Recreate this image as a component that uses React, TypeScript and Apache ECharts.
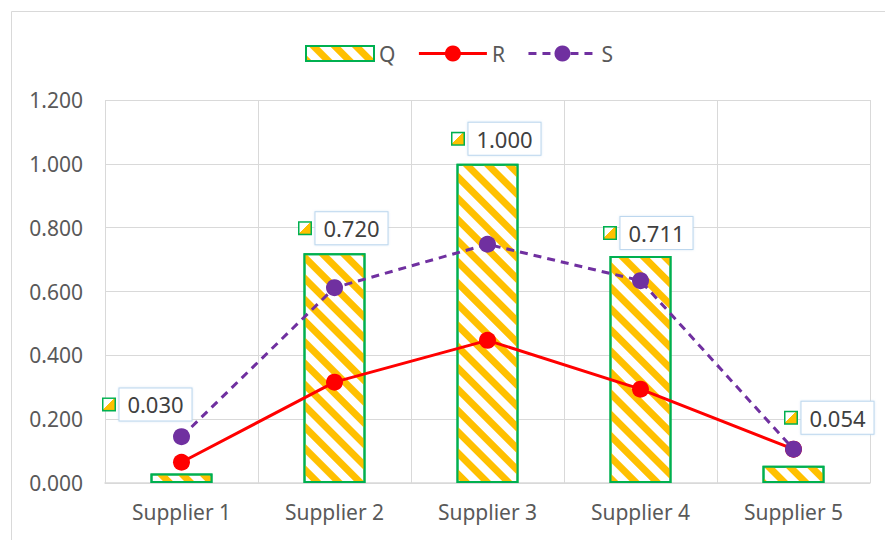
import React, { useEffect, useRef } from "react";
import * as echarts from "echarts";

const categories = ["Supplier 1", "Supplier 2", "Supplier 3", "Supplier 4", "Supplier 5"];
const qValues = [0.03, 0.72, 1.0, 0.711, 0.054];
const rValues = [0.065, 0.316, 0.447, 0.294, 0.106];
const sValues = [0.145, 0.612, 0.748, 0.634, 0.106];
const yTicks = { min: 0, max: 1.2, interval: 0.2 };

// label placement (pixels, relative to the bar top)
const labelOffsets: [number, number][] = [
  [-34, -53],
  [9, -9],
  [9, -9],
  [8, -7],
  [36, -32],
];

const FONT = "Noto Sans";
const YELLOW = "#FFC000";
const GREEN = "#00B050";

export default function App() {
  const ref = useRef<HTMLDivElement>(null);
  useEffect(() => {
    document.body.style.margin = "0";
    if (!ref.current) return;
    const chart = echarts.init(ref.current, undefined, { renderer: "svg" });
    const keyFill = new echarts.graphic.LinearGradient(0, 0, 1, 1, [
      { offset: 0, color: "#ffffff" },
      { offset: 0.45, color: "#ffffff" },
      { offset: 0.45, color: YELLOW },
      { offset: 1, color: YELLOW },
    ]);
    const decal = {
      symbol: "rect",
      symbolSize: 1,
      color: YELLOW,
      dashArrayX: [7, 8],
      dashArrayY: [1, 0],
      rotation: -Math.PI / 4,
    };
    chart.setOption({
      animation: false,
      backgroundColor: "#ffffff",
      textStyle: { fontFamily: FONT },
      graphic: [
        {
          type: "rect",
          shape: { x: 11.5, y: 11.5, width: 1000, height: 1000 },
          style: { fill: "none", stroke: "#d9d9d9", lineWidth: 1 },
          silent: true,
        },
      ],
      legend: {
        top: 38,
        left: 300,
        itemWidth: 68,
        itemHeight: 20,
        itemGap: 22,
        symbolKeepAspect: true,
        lineStyle: { width: 3 },
        textStyle: { fontFamily: FONT, fontSize: 21, color: "#595959" },
        data: [
          { name: "Q", icon: "path://M0 0H68V15H0Z" },
          { name: "R" },
          { name: "S" },
        ],
      },
      grid: { left: 105, right: 15, top: 100, bottom: 57, containLabel: false },
      xAxis: {
        type: "category",
        data: categories,
        boundaryGap: true,
        axisLine: { show: true, lineStyle: { color: "#d9d9d9", width: 1.5 } },
        axisTick: { show: false },
        splitLine: { show: true, lineStyle: { color: "#d9d9d9", width: 1 } },
        axisLabel: { fontFamily: FONT, fontSize: 21, color: "#595959", margin: 18 },
      },
      yAxis: {
        type: "value",
        min: yTicks.min,
        max: yTicks.max,
        interval: yTicks.interval,
        axisLine: { show: false },
        axisTick: { show: false },
        splitLine: { lineStyle: { color: "#d9d9d9", width: 1 } },
        axisLabel: {
          fontFamily: FONT,
          fontSize: 21,
          color: "#595959",
          margin: 22,
          formatter: (v: number) => v.toFixed(3),
        },
      },
      series: [
        {
          name: "Q",
          type: "bar",
          barWidth: 62,
          itemStyle: { color: "#ffffff", borderColor: GREEN, borderWidth: 2, decal },
          data: qValues.map((v, i) => ({
            value: v,
            label: {
              show: true,
              position: "top",
              distance: 0,
              offset: labelOffsets[i],
              formatter: (p: any) => `{k|}{g|}{b|${Number(p.value).toFixed(3)}}`,
              rich: {
                k: {
                  width: 11,
                  height: 11,
                  backgroundColor: keyFill,
                  borderColor: GREEN,
                  borderWidth: 1.5,
                },
                g: { width: 5 },
                b: {
                  fontFamily: FONT,
                  fontSize: 22,
                  color: "#404040",
                  backgroundColor: "#ffffff",
                  borderColor: "#BDD7EE",
                  borderWidth: 1,
                  padding: [4, 9, 4, 9],
                  width: 54,
                  height: 24,
                  align: "center",
                  shadowColor: "rgba(189,215,238,0.6)",
                  shadowBlur: 2,
                },
              },
            },
          })),
          z: 2,
        },
        {
          name: "R",
          type: "line",
          data: rValues,
          symbol: "circle",
          symbolSize: 17,
          lineStyle: { color: "#FF0000", width: 3 },
          itemStyle: { color: "#FF0000" },
          z: 3,
        },
        {
          name: "S",
          type: "line",
          data: sValues,
          symbol: "circle",
          symbolSize: 17,
          lineStyle: { color: "#7030A0", width: 3, type: [8, 6] },
          itemStyle: { color: "#7030A0" },
          z: 4,
        },
      ],
    });
    return () => chart.dispose();
  }, []);
  return <div ref={ref} style={{ width: 885, height: 540 }} />;
}
